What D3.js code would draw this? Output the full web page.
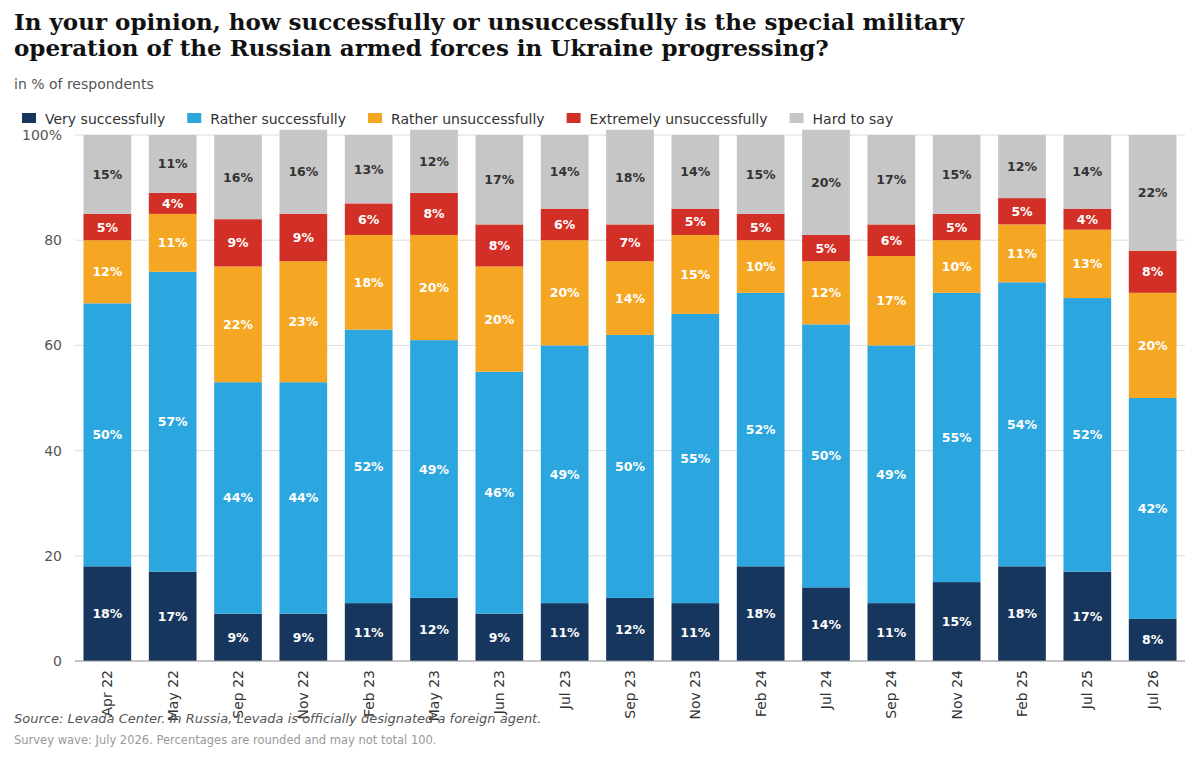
<!DOCTYPE html>
<html><head><meta charset="utf-8">
<script src="https://cdn.jsdelivr.net/npm/d3@7"></script>
<style>body{margin:0;background:#fff}</style></head>
<body><svg id="c" width="1200" height="764"></svg>
<script>
const categories=["Apr 22","May 22","Sep 22","Nov 22","Feb 23","May 23","Jun 23","Jul 23","Sep 23","Nov 23","Feb 24","Jul 24","Sep 24","Nov 24","Feb 25","Jul 25","Jul 26"];
const seriesNames=["Very successfully","Rather successfully","Rather unsuccessfully","Extremely unsuccessfully","Hard to say"];
const verySuccessfully=[18,17,9,9,11,12,9,11,12,11,18,14,11,15,18,17,8];
const ratherSuccessfully=[50,57,44,44,52,49,46,49,50,55,52,50,49,55,54,52,42];
const ratherUnsuccessfully=[12,11,22,23,18,20,20,20,14,15,10,12,17,10,11,13,20];
const extremelyUnsuccessfully=[5,4,9,9,6,8,8,6,7,5,5,5,6,5,5,4,8];
const hardToSay=[15,11,16,16,13,12,17,14,18,14,15,20,17,15,12,14,22];
const yTicks=[0,20,40,60,80,100];
const colors=["#17365d","#2ba6de","#f5a623","#d22f27","#c6c6c6"];
const labelColors=["#fff","#fff","#fff","#fff","#333"];
const series=[verySuccessfully,ratherSuccessfully,ratherUnsuccessfully,extremelyUnsuccessfully,hardToSay];

const svg=d3.select("#c");
const font="'DejaVu Sans', sans-serif";
svg.append("text").attr("x",14).attr("y",30).attr("font-family","'DejaVu Serif', serif").attr("font-weight","bold").attr("font-size",23).attr("fill","#111").text("In your opinion, how successfully or unsuccessfully is the special military");
svg.append("text").attr("x",14).attr("y",56).attr("font-family","'DejaVu Serif', serif").attr("font-weight","bold").attr("font-size",23).attr("fill","#111").text("operation of the Russian armed forces in Ukraine progressing?");
svg.append("text").attr("x",14).attr("y",89).attr("font-family",font).attr("font-size",14).attr("fill","#555").text("in % of respondents");

// legend
let lx=22;
seriesNames.forEach((n,i)=>{
  svg.append("rect").attr("x",lx).attr("y",113).attr("width",14).attr("height",10).attr("fill",colors[i]);
  const t=svg.append("text").attr("x",lx+23).attr("y",124).attr("font-family",font).attr("font-size",14).attr("fill","#333").text(n);
  lx+=t.node().getComputedTextLength()+23+22;
});

const x=d3.scaleBand().domain(categories).range([75,1185]).paddingInner(0.27).paddingOuter(0.13);
const y=d3.scaleLinear().domain([0,100]).range([661,135]);

const g=svg.append("g");
g.selectAll("line.grid").data(yTicks).join("line").attr("x1",75).attr("x2",1185).attr("y1",d=>y(d)).attr("y2",d=>y(d)).attr("stroke","#ddd");

const rows=categories.map((c,i)=>{const o={cat:c};seriesNames.forEach((n,j)=>o[n]=series[j][i]);return o;});
const stacked=d3.stack().keys(seriesNames)(rows);
stacked.forEach((layer,j)=>{
  const lg=g.append("g");
  lg.selectAll("rect").data(layer).join("rect").attr("x",d=>x(d.data.cat)).attr("width",x.bandwidth()).attr("y",d=>y(d[1])).attr("height",d=>y(d[0])-y(d[1])).attr("fill",colors[j]);
  lg.selectAll("text").data(layer).join("text").attr("x",d=>x(d.data.cat)+x.bandwidth()/2).attr("y",d=>y((d[0]+d[1])/2)+4.5).attr("text-anchor","middle").attr("font-family",font).attr("font-weight","bold").attr("font-size",12.5).attr("fill",labelColors[j]).text(d=>(d[1]-d[0])+"%");
});

g.append("line").attr("x1",75).attr("x2",1185).attr("y1",661).attr("y2",661).attr("stroke","#999");
g.selectAll("text.yt").data(yTicks).join("text").attr("x",62).attr("y",d=>y(d)+5).attr("text-anchor","end").attr("font-family",font).attr("font-size",14).attr("fill","#555").text(d=>d===100?"100%":d);
g.selectAll("text.xt").data(categories).join("text").attr("transform",d=>`translate(${x(d)+x.bandwidth()/2+5},670) rotate(-90)`).attr("text-anchor","end").attr("font-family",font).attr("font-size",14).attr("fill","#333").text(d=>d);

svg.append("text").attr("x",14).attr("y",723).attr("font-family",font).attr("font-style","italic").attr("font-size",13).attr("fill","#555").text("Source: Levada Center. In Russia, Levada is officially designated a foreign agent.");
svg.append("text").attr("x",14).attr("y",744).attr("font-family",font).attr("font-size",11.5).attr("fill","#999").text("Survey wave: July 2026. Percentages are rounded and may not total 100.");
</script></body></html>
